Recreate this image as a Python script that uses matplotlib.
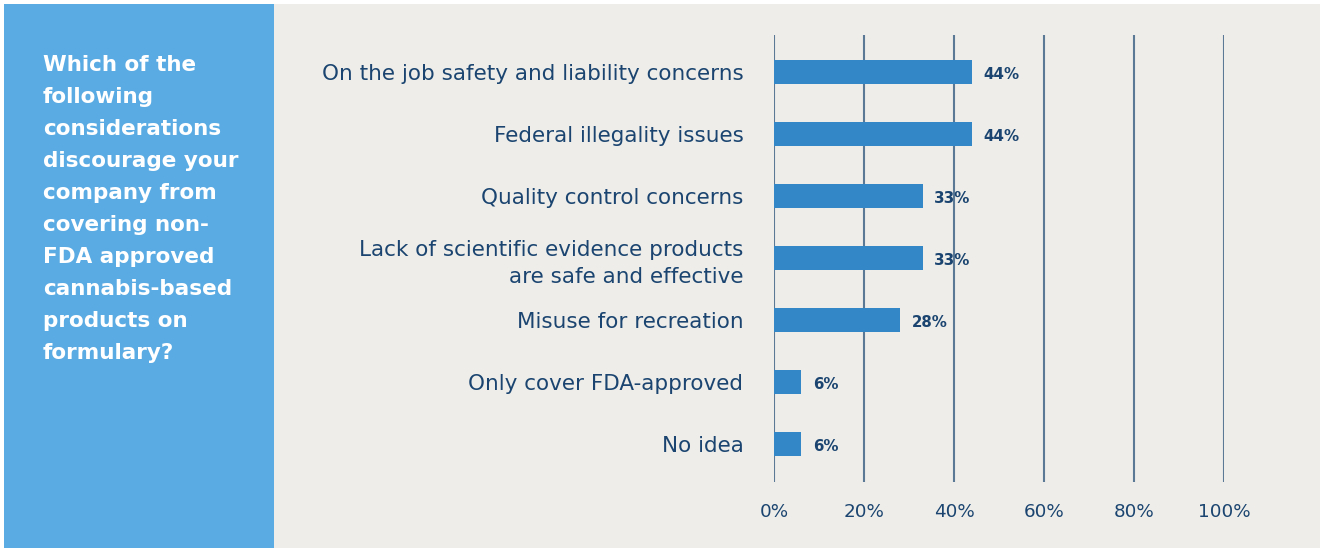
import matplotlib.pyplot as plt
from matplotlib.patches import Rectangle

# Datos del gráfico
categories = [
    "On the job safety and liability concerns",
    "Federal illegality issues",
    "Quality control concerns",
    "Lack of scientific evidence products\nare safe and effective",
    "Misuse for recreation",
    "Only cover FDA-approved",
    "No idea",
]
values = [44, 44, 33, 33, 28, 6, 6]
value_labels = ["44%", "44%", "33%", "33%", "28%", "6%", "6%"]
ticks = [0, 20, 40, 60, 80, 100]
tick_labels = ["0%", "20%", "40%", "60%", "80%", "100%"]
question = ("Which of the\nfollowing\nconsiderations\ndiscourage your\ncompany from\n"
            "covering non-\nFDA approved\ncannabis-based\nproducts on\nformulary?")

W, H = 1324, 548
navy = "#1b4570"
bar_color = "#3487c7"
grid_color = "#5b7894"

plt.rcParams['font.family'] = ['DejaVu Sans']

fig = plt.figure(figsize=(W / 100, H / 100), dpi=100)
fig.patch.set_facecolor("white")

# Paneles de fondo (en pixeles)
def px(x, y, w, h):
    return (x / W, 1 - (y + h) / H), w / W, h / H

(x0, y0), w0, h0 = px(4, 4, 270, 544)
fig.patches.append(Rectangle((x0, y0), w0, h0, transform=fig.transFigure,
                             facecolor="#5aabe3", edgecolor="none", zorder=-2))
(x1, y1), w1, h1 = px(274, 4, 1046, 544)
fig.patches.append(Rectangle((x1, y1), w1, h1, transform=fig.transFigure,
                             facecolor="#eeede9", edgecolor="none", zorder=-2))

fig.text(43 / W, 1 - 55 / H, question, color="white", fontsize=15.5,
         fontweight="bold", va="top", ha="left", linespacing=1.75)

# Eje principal
left, right, top, bottom = 774, 1224, 35, 482
ax = fig.add_axes([left / W, 1 - bottom / H, (right - left) / W, (bottom - top) / H])
ax.set_facecolor("none")
ys = list(range(len(categories)))
ax.barh(ys, values, height=0.39, color=bar_color, zorder=3)
ax.set_xlim(0, 100)
ax.set_ylim(len(categories) - 1 + 0.61, -0.6)

for xv in ticks:
    ax.axvline(xv, color=grid_color, lw=1.5, zorder=2)

for y, v, lab in zip(ys, values, value_labels):
    ax.text(v + 2.6, y + 0.03, lab, color=navy, fontsize=10.8, fontweight="bold",
            va="center", ha="left")

ax.set_yticks(ys)
ax.set_yticklabels(categories, color=navy, fontsize=15.5, linespacing=1.45)
ax.set_xticks(ticks)
ax.set_xticklabels(tick_labels, color=navy, fontsize=13.2)
ax.tick_params(axis="y", length=0, pad=22)
ax.tick_params(axis="x", length=0, pad=15)
for s in ax.spines.values():
    s.set_visible(False)

fig.savefig("out.png", dpi=100, facecolor=fig.get_facecolor())
